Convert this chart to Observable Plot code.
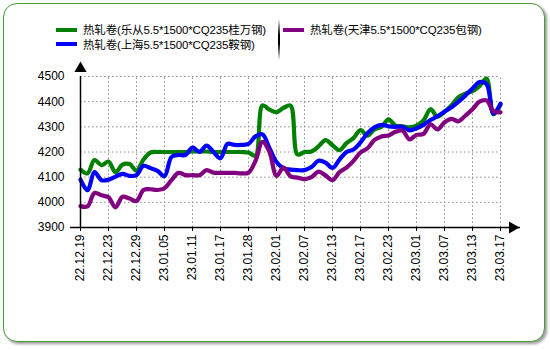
<!DOCTYPE html>
<html>
<head>
<meta charset="utf-8">
<script src="https://cdn.jsdelivr.net/npm/d3@7"></script>
<script src="https://cdn.jsdelivr.net/npm/@observablehq/plot@0.6"></script>
<style>
  html, body { margin: 0; padding: 0; background: #fff; }
  body { width: 550px; height: 350px; position: relative; overflow: hidden;
         font-family: "Liberation Sans", Arial, "Noto Sans CJK SC", sans-serif; }
  #frame { position: absolute; left: 3px; top: 3px; width: 540px; height: 337px;
           border: 1.5px solid #4a9a3c; border-radius: 14px; box-shadow: 2px 2px 3px #9a9a9a; background: #fff; }
  #chart { position: absolute; left: 0; top: 0; }
  .leg { position: absolute; font-size: 11.5px; color: #000; white-space: nowrap; line-height: 14px; letter-spacing: -0.15px; }
  .sw { display: inline-block; width: 21px; height: 4px; vertical-align: middle; margin-right: 6px; position: relative; top: -1px; }
  #sep { position: absolute; left: 278px; top: 19px; width: 2px; height: 41px;
         background: linear-gradient(to bottom, #fff, #000 40%, #000 60%, #fff); }
</style>
</head>
<body>
<div id="frame"></div>
<div id="legend"></div>
<div id="sep"></div>
<div id="chart"></div>
<script>
const seriesNames = [
  "热轧卷(乐从5.5*1500*CQ235桂万钢)",
  "热轧卷(上海5.5*1500*CQ235鞍钢)",
  "热轧卷(天津5.5*1500*CQ235包钢)"
];
const seriesColors = ["#008000", "#0000ff", "#800080"];

const dates = [
  "22.12.19","22.12.20","22.12.21","22.12.22","22.12.23","22.12.26","22.12.27","22.12.28","22.12.29","22.12.30",
  "23.01.03","23.01.04","23.01.05","23.01.06","23.01.09","23.01.10","23.01.11","23.01.12","23.01.13","23.01.16",
  "23.01.17","23.01.18","23.01.19","23.01.20","23.01.28","23.01.29","23.01.30","23.01.31","23.02.01","23.02.02",
  "23.02.03","23.02.06","23.02.07","23.02.08","23.02.09","23.02.10","23.02.13","23.02.14","23.02.15","23.02.16",
  "23.02.17","23.02.20","23.02.21","23.02.22","23.02.23","23.02.24","23.02.27","23.02.28","23.03.01","23.03.02",
  "23.03.03","23.03.06","23.03.07","23.03.08","23.03.09","23.03.10","23.03.13","23.03.14","23.03.15","23.03.16",
  "23.03.17"
];

const xTickLabels = ["22.12.19","22.12.23","22.12.29","23.01.05","23.01.11","23.01.17","23.01.28","23.02.01",
  "23.02.07","23.02.13","23.02.17","23.02.23","23.03.01","23.03.07","23.03.13","23.03.17"];
const yTicks = [3900, 4000, 4100, 4200, 4300, 4400, 4500];

const greenLecong = [
  4130,4115,4168,4148,4162,4120,4150,4152,4126,4170,
  4198,4200,4200,4200,4200,4200,4202,4202,4202,4200,
  4200,4200,4200,4200,4198,4185,4385,4368,4358,4375,
  4385,4190,4200,4202,4222,4247,4227,4207,4235,4255,
  4287,4265,4290,4300,4330,4305,4302,4298,4305,4325,
  4370,4340,4360,4385,4418,4432,4442,4462,4492,4350,
  4388
];
const blueShanghai = [
  4090,4048,4120,4088,4090,4102,4113,4105,4108,4145,
  4136,4125,4104,4180,4188,4188,4218,4200,4225,4200,
  4175,4232,4228,4228,4232,4262,4270,4215,4160,4135,
  4130,4128,4128,4140,4165,4158,4137,4170,4200,4210,
  4238,4275,4298,4308,4302,4300,4300,4286,4294,4308,
  4327,4342,4360,4378,4400,4425,4452,4478,4470,4352,
  4392
];
const purpleTianjin = [
  3985,3984,4037,4028,4020,3980,4022,4015,4005,4049,
  4052,4049,4056,4088,4117,4108,4108,4108,4128,4118,
  4117,4117,4117,4115,4118,4165,4240,4200,4105,4138,
  4103,4098,4092,4100,4122,4107,4088,4120,4138,4165,
  4198,4215,4248,4262,4266,4280,4285,4250,4268,4272,
  4310,4290,4318,4332,4322,4345,4370,4400,4405,4362,
  4358
];

// legend
const legend = document.getElementById("legend");
const legPos = [[56, 23], [56, 37.5], [283, 23]];
seriesNames.forEach((n, i) => {
  const d = document.createElement("div");
  d.className = "leg";
  d.style.left = legPos[i][0] + "px";
  d.style.top = legPos[i][1] + "px";
  d.innerHTML = `<span class="sw" style="background:${seriesColors[i]}"></span>${n}`;
  legend.appendChild(d);
});

const toRows = (arr) => dates.map((d, i) => ({date: d, v: arr[i]}));
const series = [greenLecong, blueShanghai, purpleTianjin];

const first = dates[0], last = dates[dates.length - 1];
const grid = {stroke: "#8c8c8c", strokeWidth: 1, strokeDasharray: "1.5,2.5", strokeOpacity: 1};

const chart = Plot.plot({
  width: 550,
  height: 300,
  marginLeft: 70,
  marginRight: 30,
  marginTop: 76,
  marginBottom: 73,
  style: {fontFamily: "'Liberation Sans', Arial, sans-serif", fontSize: "12px", color: "#000", background: "transparent", overflow: "visible"},
  x: {type: "point", domain: dates, padding: 0, insetRight: 10, ticks: xTickLabels, tickRotate: -90, tickSize: 4, tickPadding: 3, label: null},
  y: {domain: [3900, 4500], ticks: yTicks, tickFormat: d => String(d), tickSize: 0, tickPadding: 6, label: null},
  marks: [
    Plot.ruleY(yTicks.slice(1), {y: d => d, x1: () => first, x2: () => last, ...grid}),
    Plot.ruleX(xTickLabels.slice(1), {x: d => d, y1: 3900, y2: 4500, ...grid}),
    ...series.map((s, i) => Plot.line(toRows(s), {x: "date", y: "v", stroke: seriesColors[i], strokeWidth: 4.2, curve: "catmull-rom"})),
    Plot.ruleY([3900], {stroke: "#000", strokeWidth: 1.5}),
    Plot.ruleX([first], {y1: 3900, y2: 4500, stroke: "#000", strokeWidth: 1.5}),
    Plot.dot([{x: first, y: 4500}], {x: "x", y: "y", symbol: "triangle", r: 4.5, fill: "#000", stroke: null, dy: -8}),
    Plot.dot([{x: last, y: 3900}], {x: "x", y: "y", symbol: "triangle", r: 4.5, fill: "#000", stroke: null, rotate: 90, dx: 12})
  ]
});
document.getElementById("chart").appendChild(chart);
</script>
</body>
</html>
